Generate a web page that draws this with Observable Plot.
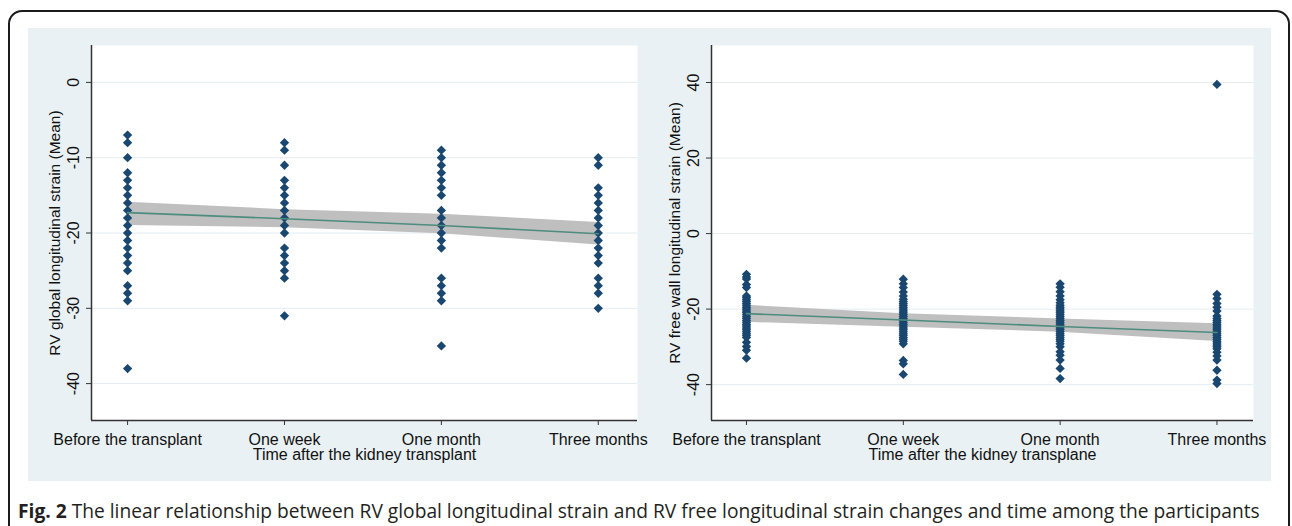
<!DOCTYPE html>
<html><head><meta charset="utf-8">
<script src="https://cdn.jsdelivr.net/npm/d3@7"></script>
<script src="https://cdn.jsdelivr.net/npm/@observablehq/plot@0.6"></script>
<style>
html,body{margin:0;padding:0;background:#fff;overflow:hidden;}
#page{position:relative;width:1292px;height:526px;overflow:hidden;}
#border{position:absolute;left:8px;top:10px;width:1278px;height:600px;border:2px solid #1b1b1b;border-radius:14px;}
#panel{position:absolute;left:28px;top:28px;width:1243px;height:453px;background:#e9f1f4;}
#left{position:absolute;left:28px;top:28px;}
#right{position:absolute;left:650px;top:28px;}
#caption{position:absolute;left:18px;top:497px;font-family:"Open Sans",sans-serif;font-size:19.2px;color:#231f20;white-space:nowrap;}
#caption b{font-weight:700;}
</style>
</head>
<body>
<div id="page">
  <div id="border"></div>
  <div id="panel"></div>
  <div id="left"></div>
  <div id="right"></div>
  <div id="caption"><b>Fig. 2</b> The linear relationship between RV global longitudinal strain and RV free longitudinal strain changes and time among the participants</div>
</div>
<script>
const categories = ["Before the transplant", "One week", "One month", "Three months"];
const leftYTicks = [0, -10, -20, -30, -40];
const rightYTicks = [40, 20, 0, -20, -40];
const leftYTitle = "RV global longitudinal strain (Mean)";
const rightYTitle = "RV free wall longitudinal strain (Mean)";
const leftXTitle = "Time after the kidney transplant";
const rightXTitle = "Time after the kidney transplane";

// Left panel: RV global longitudinal strain
const leftBefore = [-7, -8, -10, -12, -13, -14, -15, -16, -17, -18, -19, -20, -21, -22, -23, -24, -25, -27, -28, -29, -38];
const leftWeek = [-8, -9, -11, -13, -14, -15, -16, -17, -18, -19, -20, -22, -23, -24, -25, -26, -31];
const leftMonth = [-9, -10, -11, -12, -13, -14, -15, -17, -18, -19, -20, -21, -22, -26, -27, -28, -29, -35];
const leftThree = [-10, -11, -14, -15, -16, -17, -18, -19, -20, -21, -22, -23, -24, -26, -27, -28, -30];
const leftFit = [-17.3, -18.1, -19.0, -20.1];
const leftUpper = [-15.9, -16.9, -17.5, -18.6];
const leftLower = [-19.0, -19.3, -20.1, -21.6];

// Right panel: RV free wall longitudinal strain
const rightBefore = [-10.8, -11.5, -12, -13.5, -14.3, -16.5, -17, -17.5, -18, -18.5, -19, -19.5, -20, -20.5, -21, -21.5, -22, -22.5, -23, -23.5, -24, -24.5, -25, -25.5, -26, -26.5, -27, -27.5, -28.8, -29.9, -30.9, -33];
const rightWeek = [-12.1, -13.3, -14.3, -15.5, -16.5, -17.4, -18, -18.5, -19, -19.5, -20, -20.5, -21, -21.5, -22, -22.5, -23, -23.5, -24, -24.5, -25, -25.5, -26, -26.5, -27, -27.5, -28, -28.5, -29.2, -33.6, -34.5, -37.3];
const rightMonth = [-13.3, -14.2, -15.4, -16.5, -17.5, -18.3, -19, -19.5, -20, -20.5, -21, -21.5, -22, -22.5, -23, -23.5, -24, -24.5, -25, -25.5, -26, -26.5, -27, -27.5, -28, -28.5, -29.2, -30, -31.3, -32.2, -33.5, -35.7, -38.4];
const rightThree = [39.5, -16.1, -17.2, -18.5, -19.5, -20.5, -21.8, -22.5, -23, -23.5, -24, -24.5, -25, -25.5, -26, -26.5, -27, -27.5, -28, -28.5, -29, -29.5, -30, -30.5, -31.4, -32.4, -33.5, -36.2, -38.8, -39.7];
const rightFit = [-21.2, -22.9, -24.6, -26.2];
const rightUpper = [-19.0, -21.2, -22.6, -23.9];
const rightLower = [-23.5, -24.8, -26.1, -28.6];

function panel(o) {
  const pts = o.groups.flatMap((vals, i) => vals.map(v => ({i, v})));
  const band = o.fit.map((f, i) => ({i, f, lo: o.lower[i], hi: o.upper[i]}));
  const idx = categories.map((_, i) => i);
  return Plot.plot({
    width: o.width, height: 452,
    marginLeft: o.marginLeft, marginRight: o.marginRight, marginTop: 17, marginBottom: 60,
    style: {fontFamily: "'Liberation Sans', Arial, sans-serif", fontSize: "15.5px", color: "#111", background: "transparent", overflow: "visible"},
    x: {domain: o.xDomain},
    y: {domain: o.yDomain},
    marks: [
      Plot.frame({fill: "white", stroke: null}),
      Plot.gridY(o.yTicks, {stroke: "#e3edf1", strokeOpacity: 1, strokeWidth: 1}),
      Plot.areaY(band, {x: "i", y1: "lo", y2: "hi", fill: "#bfbfbf"}),
      Plot.dot(pts, {x: "i", y: "v", symbol: "diamond2", r: 4.2, fill: "#1a476f", stroke: null}),
      Plot.line(band, {x: "i", y: "f", stroke: "#4e8c7d", strokeWidth: 1.6}),
      Plot.ruleX([o.xDomain[0]], {stroke: "#333", strokeWidth: 1.5}),
      Plot.ruleY([o.yDomain[0]], {stroke: "#333", strokeWidth: 1.5}),
      Plot.axisX(idx, {tickSize: 5, tickPadding: 8, tickFormat: d => categories[d], label: null, stroke: "#333", fill: "#111", fontSize: 16}),
      Plot.axisY(o.yTicks, {tickSize: 5, tickFormat: () => "", label: null, stroke: "#333"}),
      Plot.text(o.yTicks, {y: d => d, text: d => String(d), frameAnchor: "left", dx: -18, rotate: -90, textAnchor: "middle", lineAnchor: "middle", fill: "#111", fontSize: 16}),
      Plot.text([o.yTitle], {text: d => d, frameAnchor: "left", dx: -36, rotate: -90, textAnchor: "middle", lineAnchor: "middle", fill: "#111"}),
      Plot.text([o.xTitle], {text: d => d, frameAnchor: "bottom", dy: 34, lineAnchor: "middle", fill: "#111", fontSize: 16})
    ]
  });
}

document.getElementById("left").appendChild(panel({
  groups: [leftBefore, leftWeek, leftMonth, leftThree],
  fit: leftFit, upper: leftUpper, lower: leftLower,
  yTicks: leftYTicks, yDomain: [-44.9, 4.9], xDomain: [-0.23, 3.25],
  yTitle: leftYTitle, xTitle: leftXTitle,
  width: 622, marginLeft: 63, marginRight: 13
}));
document.getElementById("right").appendChild(panel({
  groups: [rightBefore, rightWeek, rightMonth, rightThree],
  fit: rightFit, upper: rightUpper, lower: rightLower,
  yTicks: rightYTicks, yDomain: [-49.5, 49.8], xDomain: [-0.223, 3.233],
  yTitle: rightYTitle, xTitle: rightXTitle,
  width: 621, marginLeft: 61, marginRight: 18
}));
</script>
</body></html>
